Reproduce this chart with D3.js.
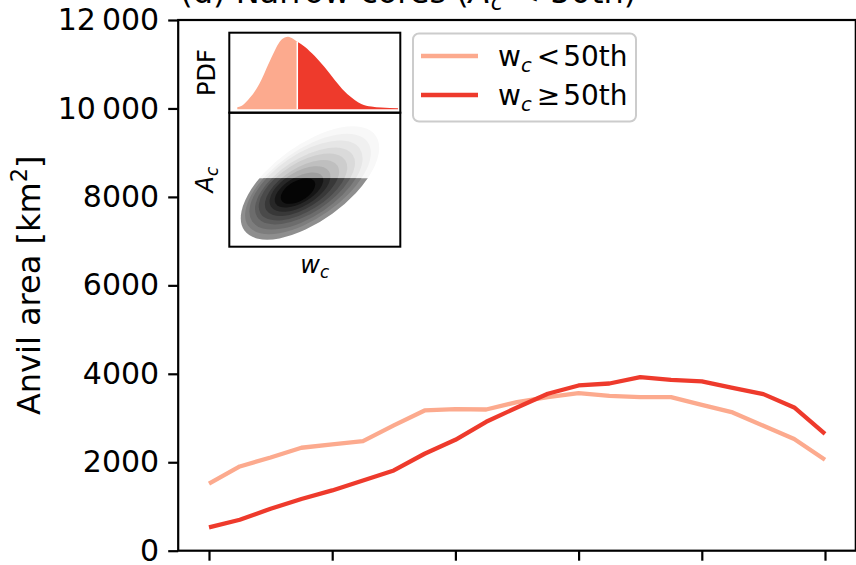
<!DOCTYPE html>
<html>
<head>
<meta charset="utf-8">
<script src="https://cdn.jsdelivr.net/npm/d3@7"></script>
<style>
  body { margin: 0; background: #fff; }
  svg { display: block; font-family: "DejaVu Sans", sans-serif; }
</style>
</head>
<body>
<svg id="chart" width="856" height="565"></svg>
<script>
// ---------- data ----------
const xValues = [0,1,2,3,4,5,6,7,8,9,10,11,12,13,14,15,16,17,18,19,20];
const lowWc  = [1514,1905,2108,2328,2402,2479,2832,3171,3202,3193,3360,3473,3563,3503,3473,3473,3299,3126,2825,2524,2056];
const highWc = [527,700,949,1168,1363,1589,1815,2192,2508,2915,3238,3548,3736,3781,3925,3864,3827,3684,3540,3239,2644];
const seriesRel = ["<", "\u2265"];
const seriesColors = ["#fcaa8e", "#ee3a2c"];
const xTicks = [0,4,8,12,16,20];
const yTicks = [0,2000,4000,6000,8000,10000,12000];
const yTickLabels = ["0","2000","4000","6000","8000","10\u2009000","12\u2009000"];

// inset: PDF of w_c (inset units)
const pdfW = [8.0,12.0,18.7,25.4,32.0,38.7,45.4,50.4,55.4,58.7,63.7,68.0,75.4,85.4,95.4,105.4,115.4,125.4,132.0,142.0,152.0,168.7];
const pdfD = [2,3.3,9.3,17.7,29.3,44.3,58.7,67.7,72,72.7,70.7,67.7,62.7,53.3,42,29.3,17.7,9.3,5.3,2.7,1.7,1];
const wSplit = 68.0;
// inset: joint density levels (outer -> inner), inset units
const lvlCx = [80.7,78.7,76.7,75.7,73.7,72.7,70.7,69.7,68.7];
const lvlCy = [63.7,62.7,61.7,60.7,59.7,58.7,57.7,56.7,55.7];
const lvlA  = [81,73,65,57,50,42,34,27,19];
const lvlB  = [38,34,31,27,24,20,17,13,10];
const lvlAng = [36,35,34,33,32,32,31,30,30];
const lvlLower = ["#8e8e8e","#7d7d7d","#6c6c6c","#5b5b5b","#4a4a4a","#383838","#272727","#151515","#050505"];
const lvlUpper = ["#f8f8f8","#f0f0f0","#e6e6e6","#dadada","#cdcdcd","#bfbfbf","#afafaf","#9e9e9e","#8c8c8c"];
const acCut = 68.4;

// ---------- layout ----------
const svg = d3.select("#chart");
const L = 178.2, R = 855.8, T = 20, B = 550.7;
const x = d3.scaleLinear().domain([-1, 21]).range([L, R]);
const y = d3.scaleLinear().domain([0, 12000]).range([B, T]);
const FS = 30;   // ticks
const LFS = 32;  // axis label, title
const GFS = 28;  // legend

// lines
const line = d3.line().x((d, i) => x(xValues[i])).y(d => y(d));
[lowWc, highWc].forEach((s, k) => {
  svg.append("path").datum(s)
    .attr("d", line)
    .attr("fill", "none")
    .attr("stroke", seriesColors[k])
    .attr("stroke-width", 4.3)
    .attr("stroke-linejoin", "round");
});

// axes
const yAxis = d3.axisLeft(y).tickValues(yTicks)
  .tickFormat((d, i) => yTickLabels[i]).tickSize(10).tickPadding(9).tickSizeOuter(0);
const gy = svg.append("g").attr("transform", `translate(${L},0)`).call(yAxis);
const xAxis = d3.axisBottom(x).tickValues(xTicks).tickFormat(() => "").tickSize(10).tickSizeOuter(0);
const gx = svg.append("g").attr("transform", `translate(0,${B})`).call(xAxis);
[gx, gy].forEach(g => {
  g.select(".domain").remove();
  g.selectAll(".tick line").attr("stroke", "#000").attr("stroke-width", 2.2);
  g.selectAll(".tick text").attr("font-size", FS).attr("fill", "#000").attr("font-family", "DejaVu Sans");
});
// spines
svg.append("rect").attr("x", L).attr("y", T).attr("width", R - L).attr("height", B - T)
  .attr("fill", "none").attr("stroke", "#000").attr("stroke-width", 2.2);

// y label
const yl = svg.append("text").attr("transform", `translate(40,${(T + B) / 2}) rotate(-90)`)
  .attr("text-anchor", "middle").attr("font-size", LFS);
yl.append("tspan").text("Anvil area [km");
yl.append("tspan").attr("font-size", LFS * 0.7).attr("dy", -LFS * 0.4).text("2");
yl.append("tspan").attr("dy", LFS * 0.4).text("]");

// title (left aligned)
const tt = svg.append("text").attr("x", L + 2).attr("y", 3).attr("font-size", LFS);
tt.append("tspan").text("(d) Narrow cores (");
tt.append("tspan").attr("font-style", "italic").text("A");
tt.append("tspan").attr("font-style", "italic").attr("font-size", LFS * 0.7).attr("dy", LFS * 0.22).text("c");
tt.append("tspan").attr("dy", -LFS * 0.22).text(" < 50th)");

// legend
const lg = svg.append("g");
lg.append("rect").attr("x", 413).attr("y", 33.5).attr("width", 223).attr("height", 88)
  .attr("rx", 6).attr("fill", "#fff").attr("fill-opacity", 0.8)
  .attr("stroke", "#cccccc").attr("stroke-width", 2);
seriesRel.forEach((rel, k) => {
  const cy = 56 + k * 39;
  lg.append("line").attr("x1", 421).attr("x2", 478).attr("y1", cy).attr("y2", cy)
    .attr("stroke", seriesColors[k]).attr("stroke-width", 4.3);
  const t = lg.append("text").attr("x", 498).attr("y", cy + 10).attr("font-size", GFS);
  t.append("tspan").text("w");
  t.append("tspan").attr("font-style", "italic").attr("font-size", GFS * 0.7).attr("dy", GFS * 0.22).text("c");
  t.append("tspan").attr("dy", -GFS * 0.22).attr("dx", 5).text(rel);
  t.append("tspan").attr("dx", 3).text("50th");
});

// ---------- inset ----------
const IX0 = 229.3, IX1 = 400.3;
const P0 = 32.7, P1 = 112.7, K1 = 246.7;
const iw = d3.scaleLinear().domain([0, 171]).range([IX0, IX1]);
const ia = d3.scaleLinear().domain([0, 134]).range([K1, P1]);
const ip = d3.scaleLinear().domain([0, 72.7]).range([109.3, 36.7]);

// PDF
const pts = pdfW.map((w, i) => [w, pdfD[i]]);
const area = d3.area().x(d => iw(d[0])).y0(ip(0)).y1(d => ip(d[1])).curve(d3.curveMonotoneX);
svg.append("path").datum(pts.filter(d => d[0] <= wSplit)).attr("d", area).attr("fill", seriesColors[0]);
svg.append("path").datum(pts.filter(d => d[0] >= wSplit)).attr("d", area).attr("fill", seriesColors[1]);
svg.append("line").attr("x1", iw(wSplit)).attr("x2", iw(wSplit))
  .attr("y1", ip(0)).attr("y2", ip(pdfD[pdfW.indexOf(wSplit)]))
  .attr("stroke", "#fff").attr("stroke-width", 1.5);

// joint density
const defs = svg.append("defs");
defs.append("clipPath").attr("id", "clipUp").append("rect")
  .attr("x", IX0).attr("y", P1).attr("width", IX1 - IX0).attr("height", ia(acCut) - P1);
defs.append("clipPath").attr("id", "clipLo").append("rect")
  .attr("x", IX0).attr("y", ia(acCut)).attr("width", IX1 - IX0).attr("height", K1 - ia(acCut));
[["clipUp", lvlUpper], ["clipLo", lvlLower]].forEach(([cid, cols]) => {
  const g = svg.append("g").attr("clip-path", `url(#${cid})`);
  lvlCx.forEach((cx, i) => {
    g.append("ellipse")
      .attr("transform", `translate(${iw(cx)},${ia(lvlCy[i])}) rotate(${-lvlAng[i]})`)
      .attr("rx", iw(lvlA[i]) - iw(0)).attr("ry", iw(lvlB[i]) - iw(0))
      .attr("fill", cols[i]);
  });
});

// inset frames
svg.append("rect").attr("x", IX0).attr("y", P0).attr("width", IX1 - IX0).attr("height", P1 - P0)
  .attr("fill", "none").attr("stroke", "#000").attr("stroke-width", 2);
svg.append("rect").attr("x", IX0).attr("y", P1).attr("width", IX1 - IX0).attr("height", K1 - P1)
  .attr("fill", "none").attr("stroke", "#000").attr("stroke-width", 2);

// inset labels
const IFS = 24;
svg.append("text").attr("transform", `translate(215,${(P0 + P1) / 2}) rotate(-90)`)
  .attr("text-anchor", "middle").attr("font-size", IFS).text("PDF");
const al = svg.append("text").attr("transform", `translate(213,${(P1 + K1) / 2}) rotate(-90)`)
  .attr("text-anchor", "middle").attr("font-size", IFS);
al.append("tspan").attr("font-style", "italic").text("A");
al.append("tspan").attr("font-style", "italic").attr("font-size", IFS * 0.7).attr("dy", IFS * 0.22).text("c");
const wl = svg.append("text").attr("x", (IX0 + IX1) / 2).attr("y", 273)
  .attr("text-anchor", "middle").attr("font-size", IFS);
wl.append("tspan").attr("font-style", "italic").text("w");
wl.append("tspan").attr("font-style", "italic").attr("font-size", IFS * 0.7).attr("dy", IFS * 0.22).text("c");
</script>
</body>
</html>
